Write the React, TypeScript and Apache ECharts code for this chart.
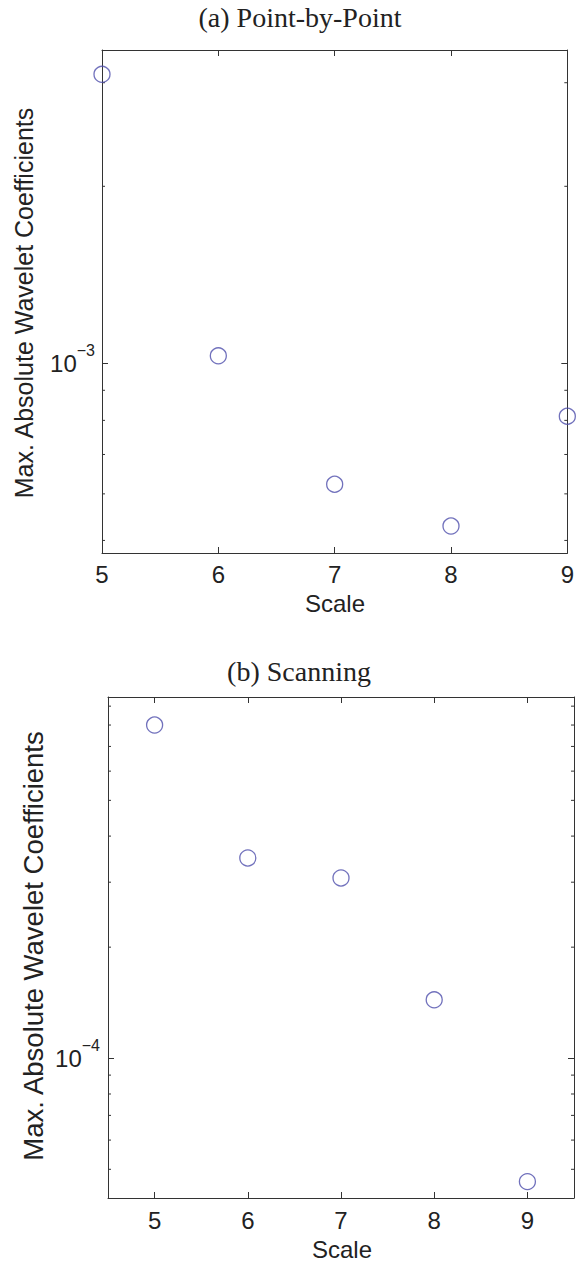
import React, { useEffect, useRef } from "react";
import * as echarts from "echarts";

// Wavelet scales on the x axis
const scales = [5, 6, 7, 8, 9];
// Max. absolute wavelet coefficients per scale
const pointByPoint = [3.1e-3, 1.03e-3, 6.23e-4, 5.29e-4, 8.13e-4];
const scanning = [8.0e-4, 3.49e-4, 3.08e-4, 1.44e-4, 4.63e-5];

// Axis ranges
const topXRange = [5, 9];
const bottomXRange = [4.5, 9.5];
const topYRange = [4.76e-4, 3.41e-3];
const bottomYRange = [4.18e-5, 9.53e-4];

// Log-scale minor tick values
const topMinorTicks = [5e-4, 6e-4, 7e-4, 8e-4, 9e-4, 2e-3, 3e-3];
const bottomMinorTicks = [
  5e-5, 6e-5, 7e-5, 8e-5, 9e-5, 2e-4, 3e-4, 4e-4, 5e-4, 6e-4, 7e-4, 8e-4, 9e-4,
];

const axisColor = "#333333";
const textColor = "#222222";
const markerColor = "#4d4dab";
const sans = '"Liberation Sans", Arial, sans-serif';
const serif = '"Liberation Serif", "Times New Roman", serif';

const isDecade = (v: number) => {
  const e = Math.log10(v);
  return Math.abs(e - Math.round(e)) < 1e-6;
};

const logLabel = (v: number) =>
  isDecade(v) ? `{b|10}{s|\u2212${-Math.round(Math.log10(v))}}` : "";

const intLabel = (v: number) =>
  Math.abs(v - Math.round(v)) < 1e-9 ? String(Math.round(v)) : "";

function xAxes(gridIndex: number, range: number[], margin: number, interval?: number) {
  const base: any = {
    type: "value",
    gridIndex,
    min: range[0],
    max: range[1],
    splitNumber: 5,
    splitLine: { show: false },
    axisLine: { show: true, onZero: false, lineStyle: { color: axisColor, width: 1 } },
    axisTick: { show: true, inside: true, length: 6, lineStyle: { color: axisColor, width: 1 } },
  };
  if (interval) base.interval = interval;
  return [
    {
      ...base,
      position: "bottom",
      axisLabel: {
        show: true,
        margin,
        fontSize: 24,
        fontFamily: sans,
        color: textColor,
        formatter: intLabel,
      },
    },
    { ...base, position: "top", axisLabel: { show: false } },
  ];
}

function yAxes(gridIndex: number, range: number[], margin: number) {
  const base: any = {
    type: "log",
    logBase: 10,
    gridIndex,
    min: range[0],
    max: range[1],
    splitLine: { show: false },
    axisLine: { show: true, onZero: false, lineStyle: { color: axisColor, width: 1 } },
    axisTick: { show: true, inside: true, length: 6, lineStyle: { color: axisColor, width: 1 } },
  };
  return [
    {
      ...base,
      position: "left",
      axisLabel: {
        show: true,
        margin,
        color: textColor,
        fontFamily: sans,
        formatter: logLabel,
        rich: {
          b: { fontSize: 24, fontFamily: sans, color: textColor, lineHeight: 24, verticalAlign: "bottom" },
          s: {
            fontSize: 16,
            fontFamily: sans,
            color: textColor,
            lineHeight: 16,
            padding: [0, 0, 17, 0],
            verticalAlign: "bottom",
          },
        },
      },
    },
    { ...base, position: "right", axisLabel: { show: false } },
  ];
}

function minorTickSeries(axisIndex: number, xMin: number, values: number[]) {
  return {
    type: "custom",
    xAxisIndex: axisIndex,
    yAxisIndex: axisIndex,
    silent: true,
    clip: false,
    z: 3,
    data: values.map((v) => [xMin, v]),
    encode: { x: 0, y: 1 },
    renderItem: (params: any, api: any) => {
      const y = api.coord([api.value(0), api.value(1)])[1];
      const cs = params.coordSys;
      const style = { stroke: axisColor, lineWidth: 1 };
      return {
        type: "group",
        children: [
          { type: "line", shape: { x1: cs.x, y1: y, x2: cs.x + 3, y2: y }, style },
          {
            type: "line",
            shape: { x1: cs.x + cs.width, y1: y, x2: cs.x + cs.width - 3, y2: y },
            style,
          },
        ],
      };
    },
  };
}

function scatterSeries(axisIndex: number, values: number[]) {
  return {
    type: "scatter",
    xAxisIndex: axisIndex,
    yAxisIndex: axisIndex,
    clip: false,
    z: 5,
    symbol: "circle",
    symbolSize: 16,
    itemStyle: { color: "rgba(0,0,0,0)", borderColor: markerColor, borderWidth: 1.3 },
    data: scales.map((s, i) => [s, values[i]]),
  };
}

function textEl(text: string, x: number, y: number, font: string, size: number, rotation = 0) {
  return {
    type: "text",
    x,
    y,
    rotation,
    style: {
      text,
      fontFamily: font,
      fontSize: size,
      fill: textColor,
      textAlign: "center",
      textVerticalAlign: "middle",
    },
  };
}

export default function App() {
  const ref = useRef<HTMLDivElement>(null);

  useEffect(() => {
    document.body.style.margin = "0";
    if (!ref.current) return;
    const chart = echarts.init(ref.current, undefined, { renderer: "svg" });
    chart.setOption({
      animation: false,
      backgroundColor: "#ffffff",
      grid: [
        { left: 102, top: 50, width: 466, height: 503, containLabel: false },
        { left: 108, top: 697, width: 467, height: 501, containLabel: false },
      ],
      xAxis: [
        ...xAxes(0, topXRange, 9, 1),
        ...xAxes(1, bottomXRange, 10),
      ],
      yAxis: [...yAxes(0, topYRange, 7), ...yAxes(1, bottomYRange, 8)],
      series: [
        minorTickSeries(0, topXRange[0], topMinorTicks),
        scatterSeries(0, pointByPoint),
        minorTickSeries(2, bottomXRange[0], bottomMinorTicks),
        scatterSeries(2, scanning),
      ],
      graphic: [
        textEl("(a) Point-by-Point", 300, 17.5, serif, 28),
        textEl("(b) Scanning", 299, 671, serif, 28),
        textEl("Scale", 335, 603, sans, 24),
        textEl("Scale", 342, 1249, sans, 24),
        textEl("Max. Absolute Wavelet Coefficients", 24, 303, sans, 25, Math.PI / 2),
        textEl("Max. Absolute Wavelet Coefficients", 33, 946, sans, 27.5, Math.PI / 2),
      ],
    });
    return () => chart.dispose();
  }, []);

  return <div ref={ref} style={{ width: 577, height: 1264 }} />;
}
